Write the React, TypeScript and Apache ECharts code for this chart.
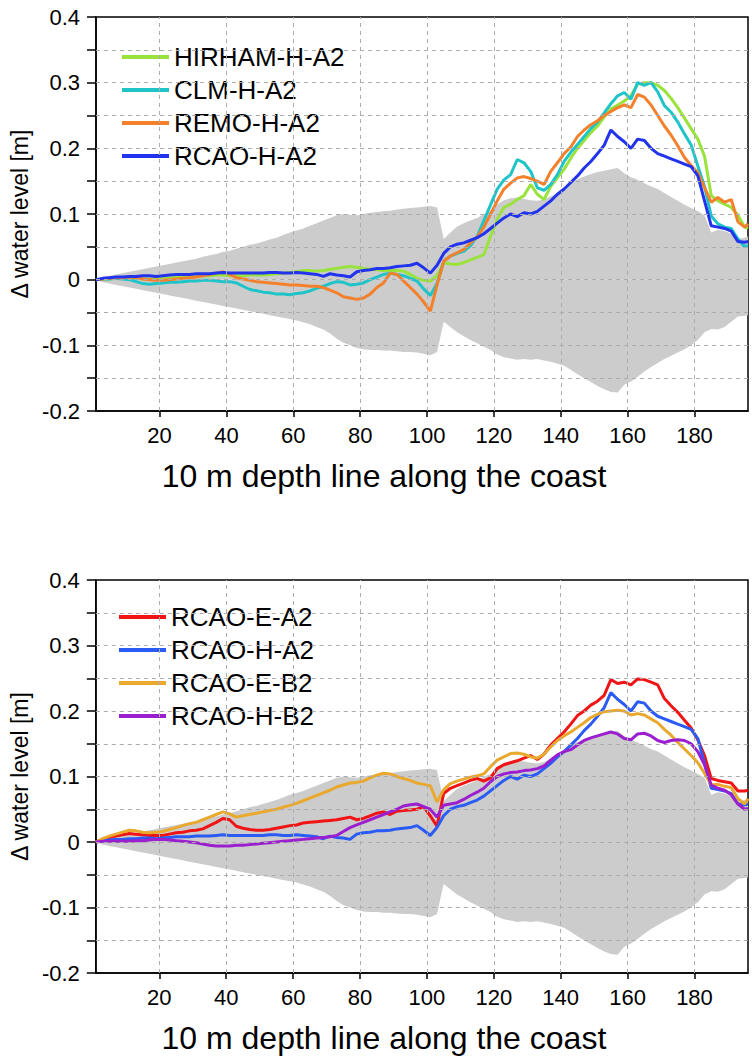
import React, { useEffect, useRef } from "react";
import * as echarts from "echarts";

const FONT = '"Liberation Sans", Arial, Helvetica, sans-serif';

// positions along the 10 m depth line
const pos = [
  1, 3, 5, 7, 9, 11, 13, 15, 17, 19,
  21, 23, 25, 27, 29, 31, 33, 35, 37, 39,
  41, 43, 45, 47, 49, 51, 53, 55, 57, 59,
  61, 63, 65, 67, 69, 71, 73, 75, 77, 79,
  81, 83, 85, 87, 89, 91, 93, 95, 97, 99,
  101, 103, 105, 107, 109, 111, 113, 115, 117, 119,
  121, 123, 125, 127, 129, 131, 133, 135, 137, 139,
  141, 143, 145, 147, 149, 151, 153, 155, 157, 159,
  161, 163, 165, 167, 169, 171, 173, 175, 177, 179,
  181, 183, 185, 187, 189, 191, 193, 195, 196,
];

const bandHi = [
  0.000, 0.004, 0.006, 0.008, 0.010, 0.012, 0.014, 0.016, 0.018, 0.020,
  0.022, 0.024, 0.026, 0.028, 0.030, 0.032, 0.035, 0.037, 0.039, 0.042,
  0.044, 0.047, 0.050, 0.053, 0.055, 0.058, 0.061, 0.064, 0.068, 0.072,
  0.075, 0.078, 0.082, 0.086, 0.090, 0.094, 0.098, 0.100, 0.099, 0.098,
  0.100, 0.102, 0.103, 0.104, 0.105, 0.107, 0.108, 0.109, 0.110, 0.111,
  0.112, 0.110, 0.062, 0.072, 0.081, 0.086, 0.090, 0.094, 0.100, 0.104,
  0.115, 0.121, 0.124, 0.125, 0.123, 0.121, 0.120, 0.122, 0.127, 0.132,
  0.140, 0.147, 0.153, 0.157, 0.161, 0.164, 0.166, 0.168, 0.170, 0.162,
  0.156, 0.152, 0.147, 0.142, 0.138, 0.132, 0.126, 0.120, 0.114, 0.109,
  0.104, 0.098, 0.072, 0.076, 0.074, 0.070, 0.062, 0.064, 0.066,
];

const bandLo = [
  0.000, -0.004, -0.006, -0.008, -0.010, -0.012, -0.014, -0.016, -0.018, -0.020,
  -0.022, -0.024, -0.026, -0.028, -0.030, -0.032, -0.034, -0.036, -0.038, -0.040,
  -0.042, -0.044, -0.046, -0.048, -0.050, -0.052, -0.054, -0.056, -0.058, -0.060,
  -0.062, -0.065, -0.068, -0.072, -0.076, -0.082, -0.090, -0.096, -0.100, -0.104,
  -0.106, -0.107, -0.107, -0.108, -0.108, -0.109, -0.110, -0.110, -0.111, -0.113,
  -0.115, -0.110, -0.064, -0.072, -0.080, -0.086, -0.092, -0.097, -0.102, -0.107,
  -0.114, -0.118, -0.120, -0.122, -0.121, -0.122, -0.121, -0.123, -0.125, -0.128,
  -0.131, -0.137, -0.144, -0.150, -0.156, -0.162, -0.167, -0.171, -0.172, -0.160,
  -0.155, -0.148, -0.140, -0.133, -0.127, -0.121, -0.116, -0.111, -0.106, -0.100,
  -0.092, -0.080, -0.075, -0.076, -0.072, -0.064, -0.056, -0.055, -0.054,
];

const hirhamHA2 = [
  0.000, 0.001, 0.001, 0.002, 0.002, 0.002, 0.002, 0.001, 0.001, 0.002,
  0.003, 0.003, 0.004, 0.004, 0.005, 0.005, 0.006, 0.006, 0.007, 0.007,
  0.006, 0.006, 0.006, 0.007, 0.007, 0.007, 0.008, 0.009, 0.010, 0.011,
  0.012, 0.014, 0.014, 0.013, 0.014, 0.016, 0.017, 0.019, 0.020, 0.019,
  0.017, 0.016, 0.015, 0.014, 0.014, 0.014, 0.013, 0.008, 0.002, -0.001,
  -0.002, 0.006, 0.026, 0.024, 0.023, 0.026, 0.030, 0.034, 0.038, 0.066,
  0.092, 0.110, 0.115, 0.122, 0.128, 0.145, 0.130, 0.122, 0.142, 0.155,
  0.168, 0.185, 0.200, 0.212, 0.224, 0.234, 0.248, 0.260, 0.266, 0.272,
  0.280, 0.298, 0.300, 0.300, 0.296, 0.288, 0.276, 0.262, 0.246, 0.230,
  0.214, 0.188, 0.128, 0.120, 0.115, 0.110, 0.098, 0.080, 0.078,
];

const clmHA2 = [
  0.000, 0.001, 0.001, 0.002, 0.001, 0.000, -0.003, -0.006, -0.007, -0.006,
  -0.005, -0.004, -0.004, -0.003, -0.002, -0.002, -0.001, -0.001, -0.002, -0.003,
  -0.003, -0.005, -0.010, -0.015, -0.017, -0.019, -0.020, -0.022, -0.022, -0.023,
  -0.021, -0.020, -0.017, -0.013, -0.010, -0.006, -0.003, -0.004, -0.008, -0.007,
  -0.005, 0.000, 0.004, 0.008, 0.010, 0.008, 0.006, 0.002, -0.002, -0.014,
  -0.024, -0.006, 0.028, 0.036, 0.040, 0.043, 0.052, 0.066, 0.090, 0.114,
  0.138, 0.152, 0.160, 0.183, 0.178, 0.165, 0.140, 0.136, 0.145, 0.160,
  0.180, 0.194, 0.206, 0.218, 0.230, 0.240, 0.254, 0.268, 0.280, 0.285,
  0.275, 0.300, 0.296, 0.300, 0.286, 0.265, 0.255, 0.240, 0.222, 0.205,
  0.173, 0.142, 0.097, 0.085, 0.080, 0.078, 0.062, 0.050, 0.052,
];

const remoHA2 = [
  0.000, 0.001, 0.002, 0.003, 0.003, 0.004, 0.003, 0.001, 0.000, -0.001,
  -0.001, 0.000, 0.001, 0.002, 0.003, 0.004, 0.006, 0.008, 0.010, 0.012,
  0.008, 0.003, 0.001, -0.001, -0.003, -0.004, -0.005, -0.006, -0.007, -0.008,
  -0.008, -0.009, -0.010, -0.010, -0.012, -0.016, -0.020, -0.026, -0.028, -0.030,
  -0.028, -0.022, -0.012, -0.005, 0.010, 0.008, -0.002, -0.012, -0.022, -0.034,
  -0.048, -0.008, 0.028, 0.036, 0.041, 0.046, 0.056, 0.065, 0.080, 0.100,
  0.120, 0.138, 0.147, 0.155, 0.157, 0.154, 0.150, 0.145, 0.165, 0.178,
  0.192, 0.202, 0.218, 0.228, 0.236, 0.242, 0.250, 0.256, 0.262, 0.266,
  0.262, 0.282, 0.278, 0.266, 0.250, 0.234, 0.220, 0.204, 0.186, 0.174,
  0.163, 0.140, 0.118, 0.125, 0.118, 0.122, 0.088, 0.080, 0.085,
];

const rcaoHA2 = [
  0.000, 0.002, 0.003, 0.004, 0.004, 0.005, 0.005, 0.006, 0.006, 0.005,
  0.006, 0.007, 0.008, 0.008, 0.008, 0.009, 0.009, 0.009, 0.010, 0.011,
  0.010, 0.010, 0.010, 0.010, 0.010, 0.010, 0.011, 0.011, 0.010, 0.010,
  0.011, 0.010, 0.009, 0.008, 0.005, 0.009, 0.007, 0.006, 0.004, 0.012,
  0.014, 0.015, 0.017, 0.017, 0.018, 0.020, 0.021, 0.022, 0.025, 0.018,
  0.010, 0.022, 0.040, 0.050, 0.054, 0.056, 0.060, 0.064, 0.070, 0.078,
  0.086, 0.094, 0.100, 0.096, 0.102, 0.100, 0.104, 0.112, 0.120, 0.130,
  0.138, 0.148, 0.158, 0.170, 0.180, 0.192, 0.205, 0.228, 0.218, 0.210,
  0.200, 0.214, 0.212, 0.200, 0.192, 0.188, 0.184, 0.180, 0.176, 0.172,
  0.158, 0.120, 0.082, 0.080, 0.078, 0.074, 0.058, 0.057, 0.058,
];

const rcaoEA2 = [
  0.000, 0.004, 0.007, 0.009, 0.011, 0.013, 0.012, 0.011, 0.010, 0.010,
  0.010, 0.012, 0.014, 0.015, 0.017, 0.018, 0.020, 0.025, 0.030, 0.036,
  0.034, 0.024, 0.021, 0.019, 0.018, 0.018, 0.019, 0.021, 0.023, 0.025,
  0.026, 0.029, 0.030, 0.031, 0.032, 0.033, 0.034, 0.036, 0.038, 0.034,
  0.036, 0.040, 0.044, 0.046, 0.042, 0.047, 0.048, 0.049, 0.050, 0.054,
  0.040, 0.024, 0.074, 0.082, 0.086, 0.090, 0.094, 0.097, 0.093, 0.098,
  0.112, 0.118, 0.121, 0.124, 0.128, 0.132, 0.126, 0.134, 0.148, 0.158,
  0.168, 0.180, 0.193, 0.200, 0.209, 0.215, 0.224, 0.248, 0.242, 0.244,
  0.240, 0.249, 0.248, 0.244, 0.240, 0.219, 0.208, 0.198, 0.186, 0.174,
  0.156, 0.132, 0.097, 0.094, 0.092, 0.090, 0.078, 0.078, 0.079,
];

const rcaoEB2 = [
  0.000, 0.005, 0.009, 0.012, 0.015, 0.018, 0.017, 0.015, 0.014, 0.015,
  0.016, 0.019, 0.022, 0.025, 0.028, 0.030, 0.034, 0.038, 0.042, 0.046,
  0.043, 0.038, 0.040, 0.042, 0.044, 0.046, 0.048, 0.050, 0.053, 0.056,
  0.059, 0.063, 0.067, 0.071, 0.075, 0.079, 0.084, 0.087, 0.090, 0.091,
  0.093, 0.098, 0.102, 0.105, 0.104, 0.100, 0.097, 0.094, 0.090, 0.088,
  0.086, 0.061, 0.080, 0.089, 0.093, 0.096, 0.099, 0.101, 0.104, 0.115,
  0.125, 0.130, 0.135, 0.136, 0.134, 0.130, 0.128, 0.134, 0.145, 0.155,
  0.162, 0.168, 0.175, 0.182, 0.190, 0.195, 0.199, 0.200, 0.201, 0.200,
  0.194, 0.196, 0.194, 0.188, 0.182, 0.172, 0.163, 0.152, 0.142, 0.132,
  0.121, 0.105, 0.087, 0.088, 0.085, 0.083, 0.066, 0.058, 0.066,
];

const rcaoHB2 = [
  0.000, 0.001, 0.001, 0.001, 0.001, 0.001, 0.002, 0.002, 0.003, 0.004,
  0.004, 0.003, 0.002, 0.001, 0.000, -0.001, -0.003, -0.005, -0.006, -0.006,
  -0.006, -0.005, -0.005, -0.004, -0.003, -0.002, -0.001, 0.000, 0.001, 0.002,
  0.003, 0.004, 0.005, 0.006, 0.007, 0.008, 0.010, 0.016, 0.022, 0.026,
  0.030, 0.034, 0.038, 0.042, 0.046, 0.050, 0.055, 0.057, 0.058, 0.054,
  0.050, 0.038, 0.056, 0.058, 0.060, 0.065, 0.071, 0.076, 0.082, 0.092,
  0.100, 0.104, 0.106, 0.107, 0.109, 0.110, 0.112, 0.116, 0.125, 0.133,
  0.138, 0.141, 0.148, 0.155, 0.159, 0.162, 0.165, 0.168, 0.165, 0.158,
  0.156, 0.165, 0.166, 0.162, 0.155, 0.152, 0.155, 0.156, 0.155, 0.150,
  0.138, 0.118, 0.087, 0.082, 0.079, 0.072, 0.058, 0.050, 0.051,
];

const xTicks = [20, 40, 60, 80, 100, 120, 140, 160, 180];
const yLabelValues = [-0.2, -0.1, 0, 0.1, 0.2, 0.3, 0.4];
const yGridValues = [-0.15, -0.1, -0.05, 0, 0.05, 0.1, 0.15, 0.2, 0.25, 0.3, 0.35];

const topSeries = [
  { name: "HIRHAM-H-A2", values: hirhamHA2, color: "#9ae23c" },
  { name: "CLM-H-A2", values: clmHA2, color: "#1fc4c8" },
  { name: "REMO-H-A2", values: remoHA2, color: "#f4802c" },
  { name: "RCAO-H-A2", values: rcaoHA2, color: "#2233ee" },
];
const bottomSeries = [
  { name: "RCAO-E-A2", values: rcaoEA2, color: "#f01414" },
  { name: "RCAO-H-A2", values: rcaoHA2, color: "#2a5cf5" },
  { name: "RCAO-E-B2", values: rcaoEB2, color: "#e9a92e" },
  { name: "RCAO-H-B2", values: rcaoHB2, color: "#9c1fcf" },
];

const pairs = (vals: number[]) => pos.map((x, i) => [x, vals[i]]);

function axesFor(gi: number) {
  const xAxis = {
    type: "value",
    gridIndex: gi,
    min: 1,
    max: 196,
    axisLine: { show: true, onZero: false, lineStyle: { color: "#000", width: 1.5 } },
    axisTick: { show: true, customValues: xTicks, length: 6, inside: false, lineStyle: { color: "#000", width: 1.5 } },
    axisLabel: { customValues: xTicks, fontSize: 22, color: "#000", margin: 13, fontFamily: FONT },
    splitLine: { show: false },
    name: "10 m depth line along the coast",
    nameLocation: "middle",
    nameGap: 49,
    nameTextStyle: { fontSize: 32, color: "#000", fontFamily: FONT, padding: [0, 76, 0, 0] },
  };
  const yAxis = {
    type: "value",
    gridIndex: gi,
    min: -0.2,
    max: 0.4,
    interval: 0.05,
    axisLine: { show: true, onZero: false, lineStyle: { color: "#000", width: 1.5 } },
    axisTick: { show: true, length: 9, inside: false, lineStyle: { color: "#000", width: 1.5 } },
    axisLabel: {
      customValues: yLabelValues,
      fontSize: 22,
      color: "#000",
      margin: 16,
      fontFamily: FONT,
      formatter: (v: number) => String(Math.round(v * 10) / 10),
    },
    splitLine: { show: false },
    name: "\u0394 water level [m]",
    nameLocation: "middle",
    nameGap: 55,
    nameTextStyle: { fontSize: 23, color: "#000", fontFamily: FONT },
  };
  return { xAxis, yAxis };
}

function seriesFor(gi: number, lines: { name: string; values: number[]; color: string }[]) {
  const out: any[] = [];
  [bandHi, bandLo].forEach((b) => {
    out.push({
      type: "line",
      xAxisIndex: gi,
      yAxisIndex: gi,
      data: pairs(b),
      symbol: "none",
      silent: true,
      lineStyle: { width: 0, opacity: 0 },
      areaStyle: { color: "#cccccc", opacity: 1 },
      z: 1,
    });
  });
  out.push({
    type: "line",
    xAxisIndex: gi,
    yAxisIndex: gi,
    data: pairs(bandHi),
    symbol: "none",
    silent: true,
    lineStyle: { width: 0, opacity: 0 },
    z: 2,
    markLine: {
      silent: true,
      symbol: ["none", "none"],
      label: { show: false },
      lineStyle: { type: [4, 4], color: "#acacac", width: 1 },
      emphasis: { disabled: true },
      data: [
        ...xTicks.map((v) => ({ xAxis: v })),
        ...yGridValues.map((v) => ({ yAxis: v })),
      ],
    },
  });
  lines.forEach((l) => {
    out.push({
      type: "line",
      name: l.name,
      xAxisIndex: gi,
      yAxisIndex: gi,
      data: pairs(l.values),
      symbol: "none",
      showSymbol: false,
      lineStyle: { width: 3, color: l.color },
      itemStyle: { color: l.color },
      z: 3,
    });
  });
  return out;
}

function legendFor(top: number, left: number, lines: { name: string; color: string }[]) {
  return {
    data: lines.map((l) => ({ name: l.name, itemStyle: { color: l.color } })),
    orient: "vertical",
    left,
    top,
    padding: 0,
    itemWidth: 47,
    itemHeight: 4,
    itemGap: 7,
    icon: "rect",
    selectedMode: false,
    textStyle: { fontSize: 26, color: "#000", fontFamily: FONT, lineHeight: 26 },
  };
}

export default function App() {
  const ref = useRef<HTMLDivElement>(null);
  useEffect(() => {
    document.body.style.margin = "0";
    if (!ref.current) return;
    const chart = echarts.init(ref.current, undefined, { renderer: "svg" });
    const a0 = axesFor(0);
    const a1 = axesFor(1);
    chart.setOption({
      animation: false,
      backgroundColor: "#fff",
      textStyle: { fontFamily: FONT },
      grid: [
        { left: 96, top: 17, width: 652, height: 394, show: true, borderColor: "#000", borderWidth: 1.5, backgroundColor: "#fff" },
        { left: 95, top: 580, width: 653, height: 393, show: true, borderColor: "#000", borderWidth: 1.5, backgroundColor: "#fff" },
      ],
      xAxis: [a0.xAxis, a1.xAxis],
      yAxis: [a0.yAxis, a1.yAxis],
      legend: [legendFor(44, 122, topSeries), legendFor(604, 119, bottomSeries)],
      series: [...seriesFor(0, topSeries), ...seriesFor(1, bottomSeries)],
    });
    return () => chart.dispose();
  }, []);
  return <div ref={ref} style={{ width: 752, height: 1057 }} />;
}
